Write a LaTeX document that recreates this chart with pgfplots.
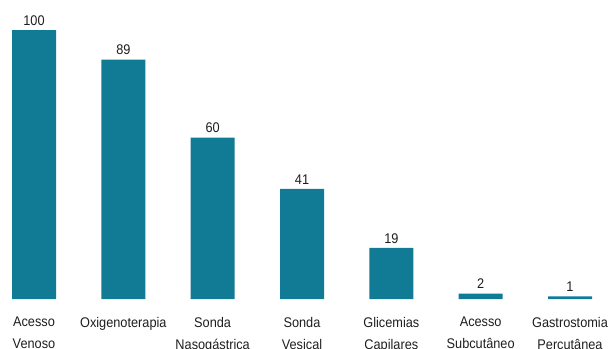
\documentclass[border=0pt]{standalone}
\usepackage{pgfplots}
\pgfplotsset{compat=1.18}
\usepackage{fontspec}
\setmainfont{Liberation Sans}[FakeStretch=0.91]
\definecolor{barteal}{RGB}{17,123,150}
\definecolor{txt}{RGB}{30,30,30}
\begin{document}
\begin{tikzpicture}
\useasboundingbox (0,-50bp) rectangle (611bp,299bp);
\clip (0,-50bp) rectangle (611bp,299bp);
\begin{axis}[
  scale only axis,
  width=611bp, height=299bp,
  xmin=-0.3806, xmax=6.459,
  ymin=0, ymax=111.2,
  axis line style={draw=none},
  major tick length=0pt,
  ytick=\empty,
  /pgf/number format/assume math mode=true,
  xtick={0,1,2,3,4,5,6},
  xticklabels={{Acesso\\Venoso},{Oxigenoterapia},{Sonda\\Nasogástrica},{Sonda\\Vesical},{Glicemias\\Capilares},{Acesso\\Subcutâneo},{Gastrostomia\\Percutânea}},
  xticklabel style={font=\fontsize{14bp}{22bp}\selectfont, text=txt, align=center, anchor=north, inner sep=0pt, yshift=-18bp},
  ybar, bar width=44bp,
  nodes near coords,
  nodes near coords style={font=\fontsize{14bp}{16bp}\selectfont, text=txt, anchor=base, inner sep=0pt, yshift=4.7bp},
]
\addplot[fill=barteal, draw=none] coordinates {(0,100) (1,89) (2,60) (3,41) (4,19) (5,2) (6,1)};
\end{axis}
\end{tikzpicture}
\end{document}
